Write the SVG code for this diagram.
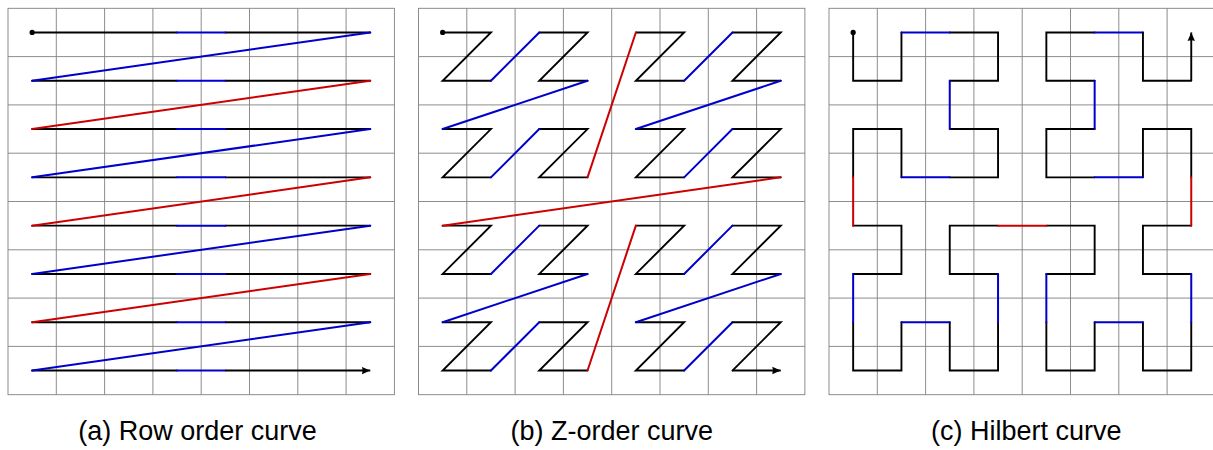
<svg xmlns="http://www.w3.org/2000/svg" xmlns:xlink="http://www.w3.org/1999/xlink" width="1213" height="450" viewBox="0 0 1213 450">
<style>
.grid{fill:none;stroke:#808080;stroke-width:0.9}
.k{fill:none;stroke:#000;stroke-width:1.9;stroke-linecap:round;stroke-linejoin:miter}
.b{fill:none;stroke:#0000cc;stroke-width:2;stroke-linecap:round}
.r{fill:none;stroke:#cc0000;stroke-width:2;stroke-linecap:round}
.ka{fill:none;stroke:#000;stroke-width:1.9;stroke-linecap:butt;marker-end:url(#arr)}
.dot{fill:#000}
.cap{font-family:"Liberation Sans",Arial,sans-serif;font-size:27px;fill:#000;text-anchor:middle}
</style>
<defs>
<marker id="arr" markerWidth="10" markerHeight="10" refX="8.5" refY="5" orient="auto" markerUnits="userSpaceOnUse" viewBox="0 0 10 10">
<path d="M0,1.3 L8.5,5 L0,8.7 Q1.6,5 0,1.3Z" fill="#000"/>
</marker>
<g id="gridpat">
<rect class="grid" x="0" y="0" width="386.4" height="386.4"/>
<path class="grid" d="M48.3,0V386.4M96.6,0V386.4M144.9,0V386.4M193.2,0V386.4M241.5,0V386.4M289.8,0V386.4M338.1,0V386.4M0,48.3H386.4M0,96.6H386.4M0,144.9H386.4M0,193.2H386.4M0,241.5H386.4M0,289.8H386.4M0,338.1H386.4"/>
</g>
</defs>
<rect width="1213" height="450" fill="#fff"/>

<g id="panel-a" transform="translate(8,8.3)">
<use xlink:href="#gridpat" href="#gridpat"/>
<g id="connectors-a">
<path class="k" d="M24.15,24.15H169.05M217.35,24.15H362.25M24.15,72.45H169.05M217.35,72.45H362.25M24.15,120.75H169.05M217.35,120.75H362.25M24.15,169.05H169.05M217.35,169.05H362.25M24.15,217.35H169.05M217.35,217.35H362.25M24.15,265.65H169.05M217.35,265.65H362.25M24.15,313.95H169.05M217.35,313.95H362.25M24.15,362.25H169.05"/>
<path class="b" d="M169.05,24.15H217.35M169.05,72.45H217.35M169.05,120.75H217.35M169.05,169.05H217.35M169.05,217.35H217.35M169.05,265.65H217.35M169.05,313.95H217.35M169.05,362.25H217.35"/>
<path class="b" d="M362.25,24.15L24.15,72.45M362.25,120.75L24.15,169.05M362.25,217.35L24.15,265.65M362.25,313.95L24.15,362.25"/>
<path class="r" d="M362.25,72.45L24.15,120.75M362.25,169.05L24.15,217.35M362.25,265.65L24.15,313.95"/>
<path class="ka" d="M217.35,362.25H362.25"/>
</g>
<circle class="dot" cx="24.15" cy="24.15" r="2.6"/>
</g>

<g id="panel-b" transform="translate(418.5,8.3)">
<use xlink:href="#gridpat" href="#gridpat"/>
<g id="connectors-b">
<path class="k" d="M24.15,24.15H72.45L24.15,72.45H72.45M120.75,24.15H169.05L120.75,72.45H169.05M24.15,120.75H72.45L24.15,169.05H72.45M120.75,120.75H169.05L120.75,169.05H169.05M217.35,24.15H265.65L217.35,72.45H265.65M313.95,24.15H362.25L313.95,72.45H362.25M217.35,120.75H265.65L217.35,169.05H265.65M313.95,120.75H362.25L313.95,169.05H362.25M24.15,217.35H72.45L24.15,265.65H72.45M120.75,217.35H169.05L120.75,265.65H169.05M24.15,313.95H72.45L24.15,362.25H72.45M120.75,313.95H169.05L120.75,362.25H169.05M217.35,217.35H265.65L217.35,265.65H265.65M313.95,217.35H362.25L313.95,265.65H362.25M217.35,313.95H265.65L217.35,362.25H265.65"/>
<path class="b" d="M72.45,72.45L120.75,24.15M169.05,72.45L24.15,120.75M72.45,169.05L120.75,120.75M265.65,72.45L313.95,24.15M362.25,72.45L217.35,120.75M265.65,169.05L313.95,120.75M72.45,265.65L120.75,217.35M169.05,265.65L24.15,313.95M72.45,362.25L120.75,313.95M265.65,265.65L313.95,217.35M362.25,265.65L217.35,313.95M265.65,362.25L313.95,313.95"/>
<path class="r" d="M169.05,169.05L217.35,24.15M362.25,169.05L24.15,217.35M169.05,362.25L217.35,217.35"/>
<path class="k" d="M313.95,313.95H362.25L313.95,362.25"/>
<path class="ka" d="M313.95,362.25H362.25"/>
</g>
<circle class="dot" cx="24.15" cy="24.15" r="2.6"/>
</g>

<g id="panel-c" transform="translate(829,8.3)">
<use xlink:href="#gridpat" href="#gridpat"/>
<g id="connectors-c">
<path class="k" d="M24.15,24.15V72.45H72.45V24.15M120.75,24.15H169.05V72.45H120.75M120.75,120.75H169.05V169.05H120.75M72.45,169.05V120.75H24.15V169.05M24.15,217.35H72.45V265.65H24.15M24.15,313.95V362.25H72.45V313.95M120.75,313.95V362.25H169.05V313.95M169.05,265.65H120.75V217.35H169.05M217.35,217.35H265.65V265.65H217.35M217.35,313.95V362.25H265.65V313.95M313.95,313.95V362.25H362.25V313.95M362.25,265.65H313.95V217.35H362.25M362.25,169.05V120.75H313.95V169.05M265.65,169.05H217.35V120.75H265.65M265.65,72.45H217.35V24.15H265.65"/>
<path class="b" d="M72.45,24.15H120.75M120.75,72.45V120.75M120.75,169.05H72.45M24.15,265.65V313.95M72.45,313.95H120.75M169.05,313.95V265.65M217.35,265.65V313.95M265.65,313.95H313.95M362.25,313.95V265.65M313.95,169.05H265.65M265.65,120.75V72.45M265.65,24.15H313.95"/>
<path class="r" d="M24.15,169.05V217.35M169.05,217.35H217.35M362.25,217.35V169.05"/>
<path class="k" d="M313.95,24.15V72.45H362.25"/>
<path class="ka" d="M362.25,72.45V24.15"/>
</g>
<circle class="dot" cx="24.15" cy="24.15" r="2.6"/>
</g>

<g id="captions">
<text class="cap" x="197.5" y="440">(a) Row order curve</text>
<text class="cap" x="611.7" y="440">(b) Z-order curve</text>
<text class="cap" x="1026.3" y="440">(c) Hilbert curve</text>
</g>
</svg>
